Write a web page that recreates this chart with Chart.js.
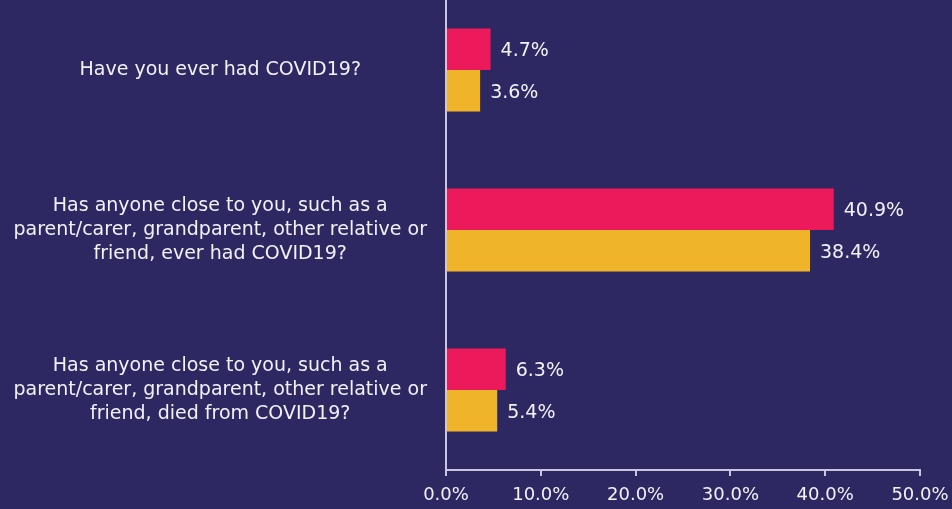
<!DOCTYPE html>
<html>
<head>
<meta charset="utf-8">
<script src="https://cdn.jsdelivr.net/npm/chart.js@4"></script>
<style>
  html, body { margin: 0; padding: 0; background: #2e2862; }
  #wrap { width: 952px; height: 509px; }
</style>
</head>
<body>
<div id="wrap"><canvas id="grafica"></canvas></div>
<script>
// categorias (preguntas) y valores
const preguntas = [
    ['Have you ever had COVID19?'],
    ['Has anyone close to you, such as a', 'parent/carer, grandparent, other relative or', 'friend, ever had COVID19?'],
    ['Has anyone close to you, such as a', 'parent/carer, grandparent, other relative or', 'friend, died from COVID19?']
];
const serieRoja = [4.7, 40.9, 6.3];
const serieAmarilla = [3.6, 38.4, 5.4];
const ticksX = [0, 10, 20, 30, 40, 50];

const colorTexto = '#f2f1f8';
const colorEje = '#c9c6dd';

// etiquetas al final de cada barra
const etiquetasBarras = {
    id: 'etiquetasBarras',
    afterDatasetsDraw(chart) {
        const ctx = chart.ctx;
        ctx.save();
        ctx.font = '19px "DejaVu Sans"';
        ctx.fillStyle = colorTexto;
        ctx.textAlign = 'left';
        ctx.textBaseline = 'middle';
        chart.data.datasets.forEach((ds, i) => {
            chart.getDatasetMeta(i).data.forEach((bar, j) => {
                ctx.fillText(ds.data[j].toFixed(1) + '%', bar.x + 10, bar.y + 2);
            });
        });
        ctx.restore();
    }
};

// el area de la grafica empieza un poco por encima del lienzo
const subirArea = {
    id: 'subirArea',
    afterLayout(chart) {
        const y = chart.scales.y;
        chart.chartArea.top = -10;
        chart.chartArea.height = chart.chartArea.bottom - chart.chartArea.top;
        y.top = -10;
        y.height = y.bottom - y.top;
        y.configure();
    }
};

new Chart(document.getElementById('grafica'), {
    type: 'bar',
    data: {
        labels: preguntas,
        datasets: [
            { label: 'A', data: serieRoja, backgroundColor: '#ec1a5b' },
            { label: 'B', data: serieAmarilla, backgroundColor: '#f0b42a' }
        ]
    },
    options: {
        indexAxis: 'y',
        responsive: true,
        maintainAspectRatio: false,
        animation: false,
        layout: { padding: { top: 0, right: 32, bottom: 2, left: 0 } },
        datasets: { bar: { barPercentage: 1, categoryPercentage: 0.52 } },
        plugins: {
            legend: { display: false },
            tooltip: { enabled: false }
        },
        scales: {
            x: {
                min: 0,
                max: 50,
                afterBuildTicks(scale) { scale.ticks = ticksX.map(v => ({ value: v })); },
                afterFit(scale) {
                    scale.height = 37;
                    scale.paddingLeft = 0;
                    scale.paddingRight = 0;
                },
                grid: { display: true, drawOnChartArea: false, color: colorEje, tickLength: 6, lineWidth: 2 },
                border: { display: true, color: colorEje, width: 2 },
                ticks: {
                    color: colorTexto,
                    font: { family: 'DejaVu Sans', size: 18 },
                    padding: 9,
                    maxRotation: 0,
                    callback: v => v.toFixed(1) + '%'
                }
            },
            y: {
                afterFit(scale) {
                    scale.width = 446;
                    scale.paddingTop = 0;
                    scale.paddingBottom = 0;
                },
                grid: { display: false },
                border: { display: true, color: colorEje, width: 2 },
                ticks: {
                    color: colorTexto,
                    font: { family: 'DejaVu Sans', size: 19, lineHeight: 1.26 },
                    crossAlign: 'center',
                    padding: 11
                }
            }
        }
    },
    plugins: [subirArea, etiquetasBarras]
});
</script>
</body>
</html>
